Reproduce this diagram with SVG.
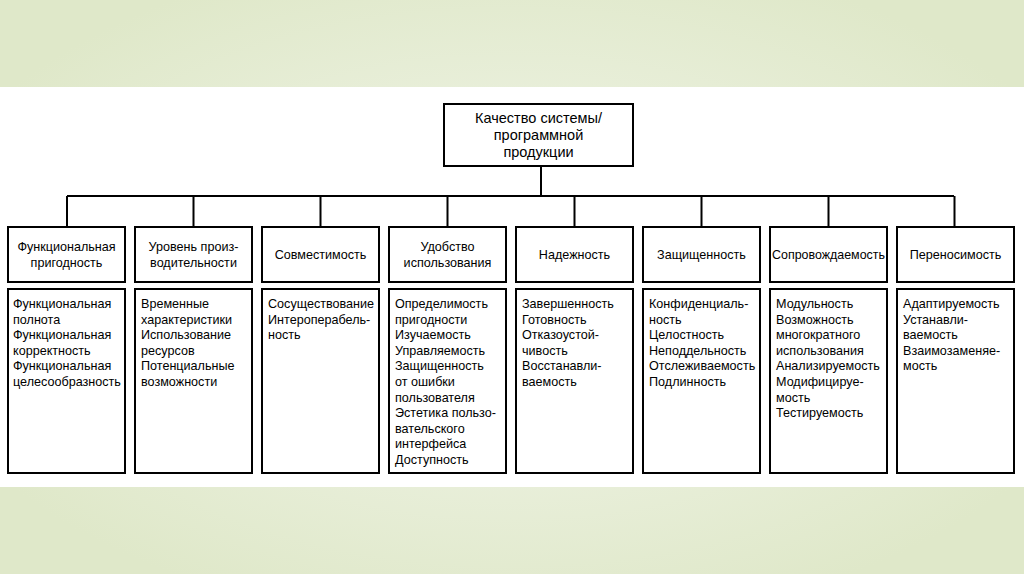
<svg xmlns="http://www.w3.org/2000/svg" width="1024" height="574" viewBox="0 0 1024 574">
<defs>
<radialGradient id="bg" cx="50%" cy="50%" r="60%">
<stop offset="0" stop-color="#f4f7ee"/>
<stop offset="1" stop-color="#dfe8c9"/>
</radialGradient>
<style>
.box{fill:#fff;stroke:#000;stroke-width:2}
.ln{stroke:#000;stroke-width:2;fill:none}
text{font-family:"Liberation Sans",Arial,sans-serif;font-size:12.6px;fill:#000}
.c{text-anchor:middle}
.t{font-size:14.5px}
</style>
</defs>
<rect x="0" y="0" width="1024" height="574" fill="url(#bg)"/>
<rect x="0" y="87" width="1024" height="400" fill="#fff"/>
<g id="connectors">
<path class="ln" d="M541 166V196M67 196H954M67 196V227M193.5 196V227M320.5 196V227M447.5 196V227M574.5 196V227M701.5 196V227M828.5 196V227M954.5 196V227"/>
</g>
<g id="root">
<rect class="box" x="444" y="104" width="189" height="62"/>
<text class="c t" x="538.5" y="123">Качество системы/</text>
<text class="c t" x="538.5" y="140">программной</text>
<text class="c t" x="538.5" y="157">продукции</text>
</g>
<g id="h1"><rect class="box" x="8" y="227" width="117" height="55"/><text class="c" x="66.5" y="251">Функциональная</text><text class="c" x="66.5" y="267">пригодность</text></g>
<g id="h2"><rect class="box" x="135" y="227" width="117" height="55"/><text class="c" x="193.5" y="251">Уровень произ-</text><text class="c" x="193.5" y="267">водительности</text></g>
<g id="h3"><rect class="box" x="262" y="227" width="117" height="55"/><text class="c" x="320.5" y="259">Совместимость</text></g>
<g id="h4"><rect class="box" x="389" y="227" width="117" height="55"/><text class="c" x="447.5" y="251">Удобство</text><text class="c" x="447.5" y="267">использования</text></g>
<g id="h5"><rect class="box" x="516" y="227" width="117" height="55"/><text class="c" x="574.5" y="259">Надежность</text></g>
<g id="h6"><rect class="box" x="643" y="227" width="117" height="55"/><text class="c" x="701.5" y="259">Защищенность</text></g>
<g id="h7"><rect class="box" x="770" y="227" width="117" height="55"/><text class="c" x="828.5" y="259" textLength="113" lengthAdjust="spacingAndGlyphs">Сопровождаемость</text></g>
<g id="h8"><rect class="box" x="897" y="227" width="117" height="55"/><text class="c" x="955.5" y="259">Переносимость</text></g>
<g id="d1"><rect class="box" x="8" y="289" width="117" height="184"/>
<text x="13" y="308">Функциональная</text><text x="13" y="323.6">полнота</text><text x="13" y="339.2">Функциональная</text><text x="13" y="354.8">корректность</text><text x="13" y="370.4">Функциональная</text><text x="13" y="386">целесообразность</text></g>
<g id="d2"><rect class="box" x="135" y="289" width="117" height="184"/>
<text x="141" y="308">Временные</text><text x="141" y="323.6">характеристики</text><text x="141" y="339.2">Использование</text><text x="141" y="354.8">ресурсов</text><text x="141" y="370.4">Потенциальные</text><text x="141" y="386">возможности</text></g>
<g id="d3"><rect class="box" x="262" y="289" width="117" height="184"/>
<text x="268" y="308">Сосуществование</text><text x="268" y="323.6">Интероперабель-</text><text x="268" y="339.2">ность</text></g>
<g id="d4"><rect class="box" x="389" y="289" width="117" height="184"/>
<text x="395" y="308">Определимость</text><text x="395" y="323.6">пригодности</text><text x="395" y="339.2">Изучаемость</text><text x="395" y="354.8">Управляемость</text><text x="395" y="370.4">Защищенность</text><text x="395" y="386">от ошибки</text><text x="395" y="401.6">пользователя</text><text x="395" y="417.2">Эстетика пользо-</text><text x="395" y="432.8">вательского</text><text x="395" y="448.4">интерфейса</text><text x="395" y="464">Доступность</text></g>
<g id="d5"><rect class="box" x="516" y="289" width="117" height="184"/>
<text x="522" y="308">Завершенность</text><text x="522" y="323.6">Готовность</text><text x="522" y="339.2">Отказоустой-</text><text x="522" y="354.8">чивость</text><text x="522" y="370.4">Восстанавли-</text><text x="522" y="386">ваемость</text></g>
<g id="d6"><rect class="box" x="643" y="289" width="117" height="184"/>
<text x="649" y="308">Конфиденциаль-</text><text x="649" y="323.6">ность</text><text x="649" y="339.2">Целостность</text><text x="649" y="354.8">Неподдельность</text><text x="649" y="370.4">Отслеживаемость</text><text x="649" y="386">Подлинность</text></g>
<g id="d7"><rect class="box" x="770" y="289" width="117" height="184"/>
<text x="776" y="308">Модульность</text><text x="776" y="323.6">Возможность</text><text x="776" y="339.2">многократного</text><text x="776" y="354.8">использования</text><text x="776" y="370.4">Анализируемость</text><text x="776" y="386">Модифицируе-</text><text x="776" y="401.6">мость</text><text x="776" y="417.2">Тестируемость</text></g>
<g id="d8"><rect class="box" x="897" y="289" width="117" height="184"/>
<text x="903" y="308">Адаптируемость</text><text x="903" y="323.6">Устанавли-</text><text x="903" y="339.2">ваемость</text><text x="903" y="354.8">Взаимозаменяе-</text><text x="903" y="370.4">мость</text></g>
</svg>
